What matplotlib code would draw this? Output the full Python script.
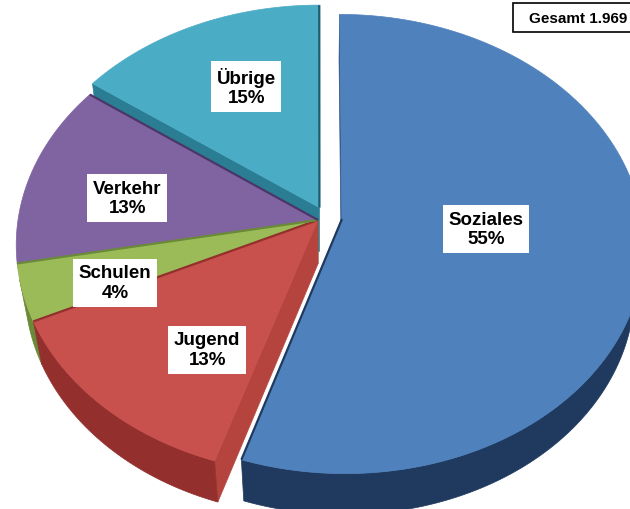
import numpy as np
import matplotlib.pyplot as plt

plt.rcParams['font.family'] = ['Liberation Sans', 'DejaVu Sans']

# data
labels = ['Soziales', 'Jugend', 'Schulen', 'Verkehr', 'Übrige']
shares = [55, 13, 4, 13, 15]
total_text = 'Gesamt 1.969'

# style
top_colors = ['#4F81BD', '#C8504D', '#9BBB59', '#8064A2', '#4BACC6']
side_colors = ['#1F3A5E', '#93302D', '#6A8A38', '#4A3768', '#1D5C6E']
radial_colors = ['#2E5286', '#B5443F', '#7FA046', '#5E4884', '#2A7D93']
explode = [0.08, 0, 0, 0, 0.055]
explode_dir = [3, None, None, None, 85]
label_r = [0.48, 0.64, 0.71, 0.65, 0.63]
label_turn = [3.7, 8.5, 4.2, 3.9, -2.6]

# camera
phi = np.radians(49.2)
D = 6.01
scale = 300
cx, cy = 318, 221
h = 0.23


def proj(X, Y, Z):
    X = np.asarray(X, float)
    Y = np.asarray(Y, float)
    Z = np.asarray(Z, float)
    yc = Y * np.sin(phi) + Z * np.cos(phi)
    zc = D + Y * np.cos(phi) - Z * np.sin(phi)
    return cx + scale * X * D / zc, cy - scale * yc * D / zc, zc


fig = plt.figure(figsize=(6.3, 5.1), dpi=100)
ax = fig.add_axes([0, 0, 1, 1])
ax.set_xlim(0, 630)
ax.set_ylim(510, 0)
ax.axis('off')

total = sum(shares)
cum = np.concatenate([[0], np.cumsum(shares)]) / total * 360
cam = np.array([0, -D * np.cos(phi)])


def geometry(i):
    a1 = 90 - cum[i + 1]
    a2 = 90 - cum[i]
    mid = (a1 + a2) / 2
    d = mid if explode_dir[i] is None else explode_dir[i]
    ox = explode[i] * np.cos(np.radians(d))
    oy = explode[i] * np.sin(np.radians(d))
    return a1, a2, mid, ox, oy


sides = []
tops = []
for i, lab in enumerate(labels):
    a1, a2, mid, ox, oy = geometry(i)
    th = np.radians(np.linspace(a1, a2, 300))
    ax_x = ox + np.cos(th)
    ax_y = oy + np.sin(th)

    # top face
    u, v, _ = proj(np.r_[ox, ax_x], np.r_[oy, ax_y], np.zeros(len(th) + 1))
    tops.append((np.c_[u, v], top_colors[i]))

    # outer side band, only the part facing the camera
    dot = -1 - ox * np.cos(th) - np.sin(th) * (D * np.cos(phi) + oy)
    idx = np.where(dot > 0)[0]
    if len(idx):
        runs = np.split(idx, np.where(np.diff(idx) > 1)[0] + 1)
        for r in runs:
            xs, ys = ax_x[r], ax_y[r]
            ut, vt, zt = proj(xs, ys, np.zeros(len(r)))
            ub, vb, _ = proj(xs, ys, -h * np.ones(len(r)))
            poly = np.c_[np.r_[ut, ub[::-1]], np.r_[vt, vb[::-1]]]
            sides.append((zt.mean(), poly, side_colors[i]))

    # radial faces
    for a, n in ((a1, (np.sin(np.radians(a1)), -np.cos(np.radians(a1)))),
                 (a2, (-np.sin(np.radians(a2)), np.cos(np.radians(a2))))):
        d = n[0] * (cam[0] - ox) + n[1] * (cam[1] - oy)
        if d <= 0:
            continue
        ex, ey = ox + np.cos(np.radians(a)), oy + np.sin(np.radians(a))
        u, v, z = proj([ox, ex, ex, ox], [oy, ey, ey, oy], [0, 0, -h, -h])
        sides.append((z.mean(), np.c_[u, v], radial_colors[i]))

sides.sort(key=lambda t: -t[0])
for _, poly, col in sides:
    ax.add_patch(plt.Polygon(poly, closed=True, fc=col, ec=col, lw=0.5))
for poly, col in tops:
    ax.add_patch(plt.Polygon(poly, closed=True, fc=col, ec=col, lw=0.5))

# dark seam lines and labels
for i, lab in enumerate(labels):
    a1, a2, mid, ox, oy = geometry(i)
    r1 = np.radians(a1)
    u, v, _ = proj([ox, ox + np.cos(r1)], [oy, oy + np.sin(r1)], [0, 0])
    ax.plot(u, v, color=side_colors[i], lw=1.6, solid_capstyle='butt')

    la = np.radians(mid + label_turn[i])
    lu, lv, _ = proj(ox + label_r[i] * np.cos(la), oy + label_r[i] * np.sin(la), 0)
    ax.text(lu, lv, f'{lab}\n{shares[i]}%', ha='center', va='center',
            fontsize=13.5, fontweight='bold', color='black', linespacing=1.2,
            bbox=dict(boxstyle='square,pad=0.3', fc='white', ec='none'))

ax.add_patch(plt.Rectangle((513, 4), 130, 29, fc='white', ec='black', lw=1.2))
ax.text(578, 19, total_text, ha='center', va='center', fontsize=11,
        fontweight='bold', color='black')

fig.savefig('out.png', dpi=100)
